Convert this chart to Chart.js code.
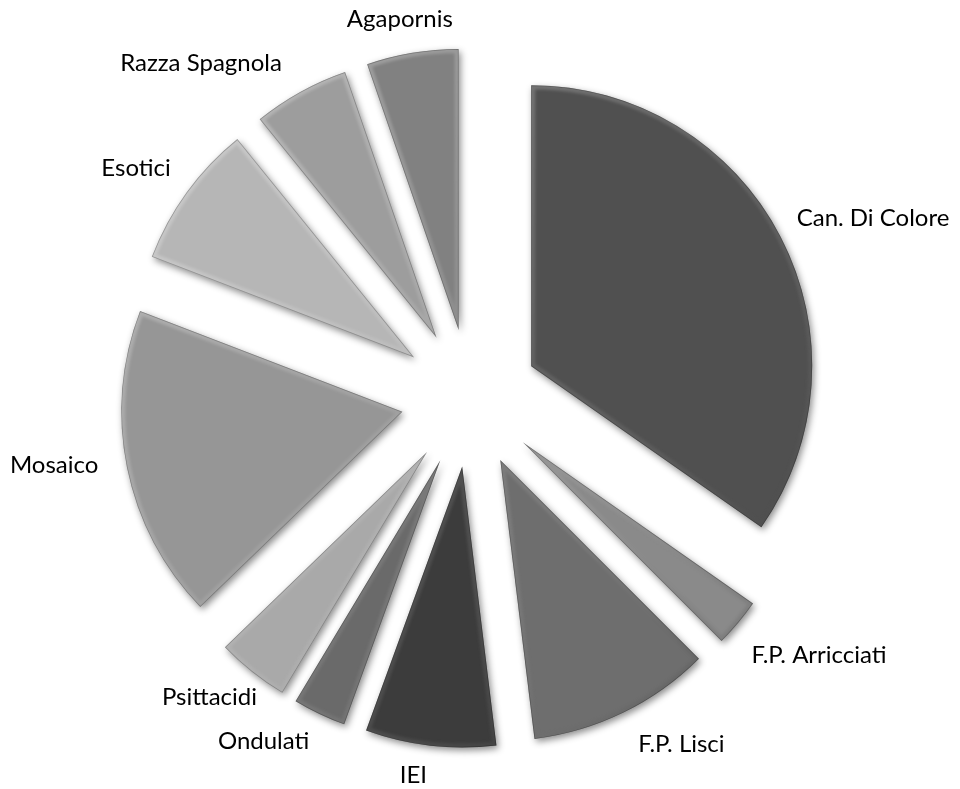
<!DOCTYPE html>
<html>
<head>
<meta charset="utf-8">
<script src="https://cdn.jsdelivr.net/npm/chart.js@4.4.0/dist/chart.umd.min.js"></script>
<style>
  html, body { margin: 0; padding: 0; background: #fff; }
  #wrap { width: 960px; height: 789px; }
</style>
</head>
<body>
<div id="wrap"><canvas id="myChart" width="960" height="789"></canvas></div>
<script>
// data (slice sizes in degrees, roughly)
const categories = ["Can. Di Colore", "F.P. Arricciati", "F.P. Lisci", "IEI", "Ondulati",
    "Psittacidi", "Mosaico", "Esotici", "Razza Spagnola", "Agapornis"];
const values = [125, 10, 38, 27, 11, 15, 65, 30, 20, 19];
const greys = ["#505050", "#8a8a8a", "#6e6e6e", "#3c3c3c", "#6a6a6a",
    "#a9a9a9", "#969696", "#b6b6b6", "#9d9d9d", "#818181"];

const EXPLODE = 69;   // distance each slice is pulled out
const RADIUS = 281;
const LABEL_GAP = 28;
// excel moves a few labels around a bit: [angle nudge in degrees, extra distance]
const labelNudge = {
    "F.P. Arricciati": [0, 10],
    "F.P. Lisci": [-3.5, 8],
    "IEI": [2, -9],
    "Ondulati": [3.5, 2],
    "Psittacidi": [0, -7],
    "Mosaico": [1.5, 0],
    "Razza Spagnola": [-5.5, 16],
    "Agapornis": [0, -6]
};

// pull slices out from the centre, with shadow and a soft bevel
const explode = {
    id: "explode",
    beforeDatasetsDraw(chart) {
        chart.getDatasetMeta(0).data.forEach(arc => {
            if (arc._exploded) return;
            const orig = arc.draw;
            arc.draw = function(ctx, area) {
                const mid = (this.startAngle + this.endAngle) / 2;
                ctx.save();
                ctx.translate(Math.cos(mid) * EXPLODE, Math.sin(mid) * EXPLODE);
                ctx.save();
                ctx.shadowColor = "rgba(0,0,0,0.45)";
                ctx.shadowBlur = 7;
                ctx.shadowOffsetX = 2;
                ctx.shadowOffsetY = 3;
                orig.call(this, ctx, area);
                ctx.restore();

                // bevel
                const x = this.x, y = this.y, r = this.outerRadius;
                ctx.beginPath();
                ctx.moveTo(x, y);
                ctx.arc(x, y, r, this.startAngle, this.endAngle);
                ctx.closePath();
                ctx.save();
                ctx.clip();
                const g = ctx.createLinearGradient(x - r, y - r, x + r, y + r);
                g.addColorStop(0, "rgba(255,255,255,0.30)");
                g.addColorStop(0.5, "rgba(255,255,255,0.10)");
                g.addColorStop(1, "rgba(0,0,0,0.22)");
                ctx.lineJoin = "round";
                ctx.filter = "blur(1.5px)";
                ctx.lineWidth = 8;
                ctx.strokeStyle = g;
                ctx.stroke();
                ctx.filter = "none";
                ctx.lineWidth = 1.5;
                ctx.strokeStyle = "rgba(0,0,0,0.25)";
                ctx.stroke();
                ctx.restore();
                ctx.restore();
            };
            arc._exploded = true;
        });
    }
};

// category names outside each slice
const outsideLabels = {
    id: "outsideLabels",
    afterDraw(chart) {
        const ctx = chart.ctx;
        const meta = chart.getDatasetMeta(0);
        ctx.save();
        ctx.font = "24px Lato, 'Open Sans', sans-serif";
        ctx.fillStyle = "#000";
        ctx.textAlign = "center";
        ctx.textBaseline = "middle";
        meta.data.forEach((arc, i) => {
            const name = categories[i];
            const nudge = labelNudge[name] || [0, 0];
            const mid = (arc.startAngle + arc.endAngle) / 2 + nudge[0] * Math.PI / 180;
            const dx = Math.cos(mid), dy = Math.sin(mid);
            const dist = arc.outerRadius + EXPLODE + LABEL_GAP + nudge[1];
            const w = ctx.measureText(name).width;
            const h = 24;
            const px = arc.x + dx * dist + dx * w / 2;
            const py = arc.y + dy * dist + dy * h / 2;
            ctx.fillText(name, px, py);
        });
        ctx.restore();
    }
};

const ctx = document.getElementById("myChart").getContext("2d");
const chart = new Chart(ctx, {
    type: "pie",
    data: {
        labels: categories,
        datasets: [{
            data: values,
            backgroundColor: greys,
            borderWidth: 0
        }]
    },
    options: {
        responsive: false,
        animation: false,
        radius: RADIUS,
        layout: { padding: { left: 0, right: 20, top: 7, bottom: 0 } },
        plugins: {
            legend: { display: false },
            tooltip: { enabled: false }
        }
    },
    plugins: [explode, outsideLabels]
});
</script>
</body>
</html>
